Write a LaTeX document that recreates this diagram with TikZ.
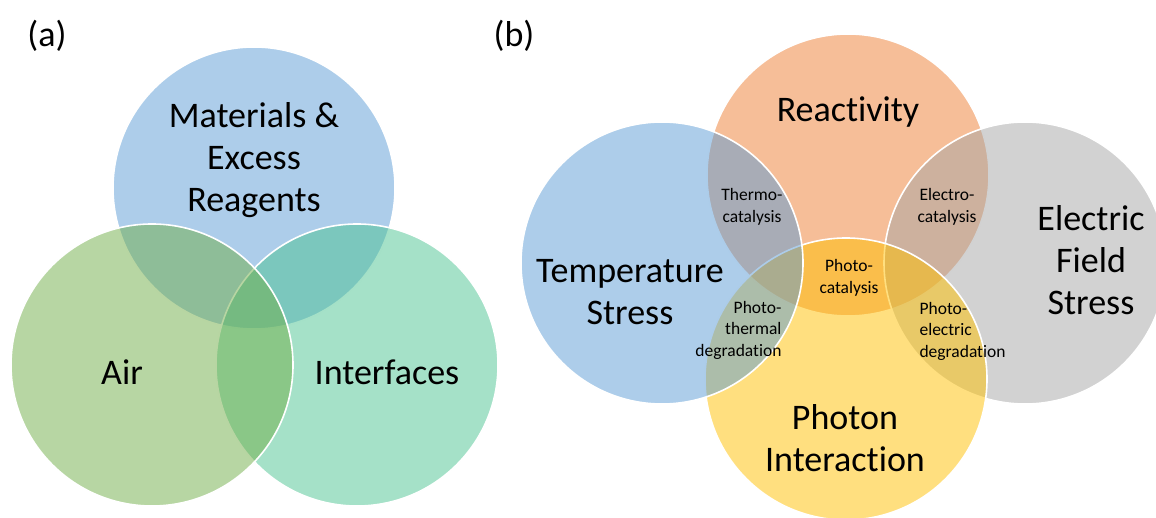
\documentclass[tikz,border=0pt]{standalone}
\usepackage{fontspec}
\setmainfont{Carlito}[Ligatures=NoCommon]

\definecolor{matblue}{HTML}{5B9BD5}
\definecolor{airgreen}{HTML}{70AD47}
\definecolor{facegreen}{HTML}{4BC391}
\definecolor{reactorange}{HTML}{ED7D31}
\definecolor{fieldgray}{HTML}{A5A5A5}
\definecolor{photonyellow}{HTML}{FFC000}

\tikzset{
  venn/.style={fill=#1, fill opacity=0.5, draw=white, line width=1.6pt},
  bigtext/.style={font=\fontsize{36}{42}\selectfont, align=center},
  smalltext/.style={font=\fontsize{17.5}{21.5}\selectfont, align=center},
  panel/.style={font=\fontsize{36}{40}\selectfont}
}

\begin{document}
\begin{tikzpicture}[x=1pt,y=-1pt]
    \useasboundingbox (0,0) rectangle (1156,518);

    % (a)
    \node[panel] (alabel) at (47,36) {(a)};
    \draw[venn=matblue] (254,188) circle[radius=141pt];
    \draw[venn=facegreen] (357,365) circle[radius=141pt];
    \draw[venn=airgreen] (152,365) circle[radius=141pt];
    \node[bigtext] (matl) at (254,160) {Materials \&\\Excess\\Reagents};
    \node[bigtext] (air) at (122,372) {Air};
    \node[bigtext] (iface) at (387,372) {Interfaces};

    % (b)
    \node[panel] (blabel) at (514,36) {(b)};
    \draw[venn=reactorange] (848,175) circle[radius=141pt];
    \draw[venn=fieldgray] (1025,263) circle[radius=141pt];
    \draw[venn=photonyellow] (846,379) circle[radius=141pt];
    \draw[venn=matblue] (662,263) circle[radius=141pt];
    \node[bigtext] (react) at (848,112) {Reactivity};
    \node[bigtext] (temp) at (630,292) {Temperature\\Stress};
    \node[bigtext] (elec) at (1091,260) {Electric\\Field\\Stress};
    \node[bigtext] (photon) at (845,438) {Photon\\Interaction};
    \node[smalltext] (thermo) at (752,207) {Thermo-\\catalysis};
    \node[smalltext] (electro) at (947,207) {Electro-\\catalysis};
    \node[smalltext] (photocat) at (849,278) {Photo-\\catalysis};
    \node[smalltext, align=right, anchor=east] (photherm) at (785,330) {Photo-\\thermal\\degradation};
    \node[smalltext, align=left, anchor=west] (photelec) at (916,331) {Photo-\\electric\\degradation};
\end{tikzpicture}
\end{document}
